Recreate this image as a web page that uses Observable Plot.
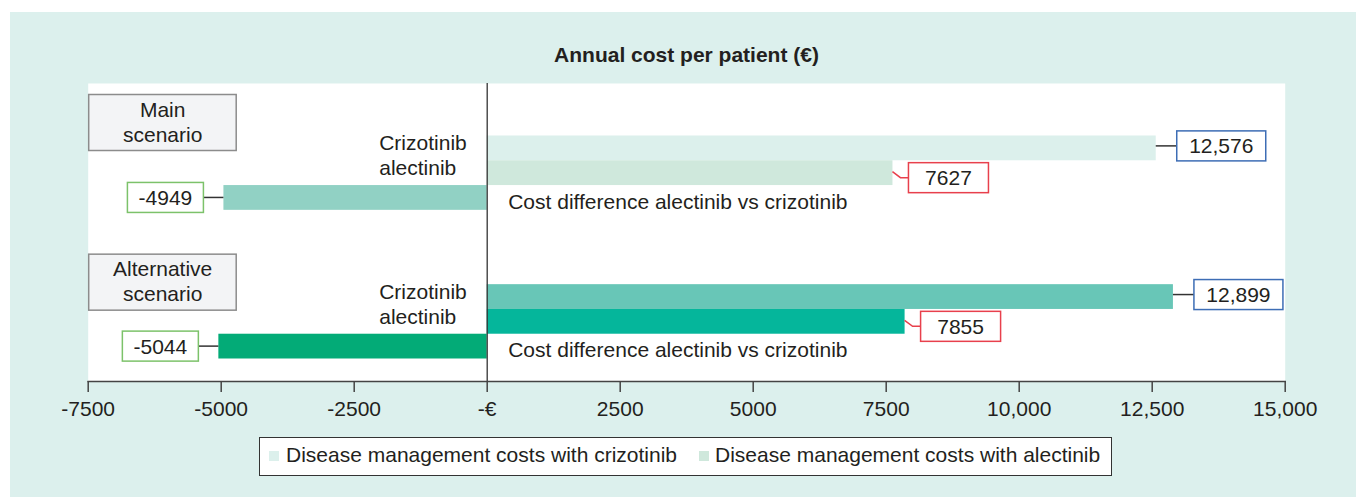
<!DOCTYPE html>
<html>
<head>
<meta charset="utf-8">
<script src="https://cdn.jsdelivr.net/npm/d3@7"></script>
<script src="https://cdn.jsdelivr.net/npm/@observablehq/plot@0.6"></script>
<style>
  body { margin: 0; background: #fff; }
  #wrap { position: relative; width: 1356px; height: 497px; overflow: hidden;
          font-family: "Liberation Sans", Arial, Helvetica, sans-serif; color: #231f20; }
  #bg { position: absolute; left: 10px; top: 12px; width: 1346px; height: 485px; background: #dcf0ed; }
  #title { position: absolute; left: 87px; width: 1199px; top: 43px; line-height: 24px;
           font-size: 21px; font-weight: bold; text-align: center; }
  #chart { position: absolute; left: 0; top: 0; }
  #legend { position: absolute; left: 259px; top: 437px; width: 851px; height: 37px;
            background: #fff; border: 1.5px solid #333; }
  .sw { position: absolute; width: 10px; height: 10px; top: 13px; }
  .lt { position: absolute; top: 5px; line-height: 24px; font-size: 21px; white-space: nowrap; }
</style>
</head>
<body>
<div id="wrap">
  <div id="bg"></div>
  <div id="title"></div>
  <div id="chart"></div>
  <div id="legend"></div>
</div>
<script>
// ---------- data ----------
const chartTitle = "Annual cost per patient (€)";
const scenarios = ["Main scenario", "Alternative scenario"];
const seriesNames = ["Crizotinib", "alectinib", "Cost difference alectinib vs crizotinib"];
const crizotinibCost = [12576, 12899];
const alectinibCost = [7627, 7855];
const costDifference = [-4949, -5044];
const xTicks = [-7500, -5000, -2500, 0, 2500, 5000, 7500, 10000, 12500, 15000];
const xTickLabels = ["-7500", "-5000", "-2500", "-€", "2500", "5000", "7500", "10,000", "12,500", "15,000"];
const legendLabels = ["Disease management costs with crizotinib", "Disease management costs with alectinib"];

// ---------- styles ----------
const FONT = '"Liberation Sans", Arial, Helvetica, sans-serif';
const TEXT = "#231f20";
const barColors = [["#dcf0ec", "#cfe8dc", "#91d1c4"], ["#68c6b7", "#05b69b", "#03ab77"]];
const boxStroke = ["#3d6db5", "#e8404c", "#7cc26a"];
const leaderStroke = ["#333333", "#e8404c", "#333333"];
const boxW = [89, 80, 76];
const scenarioBoxOffset = [-41, -30];
const legendColors = ["#dcf0ec", "#cfe8dc"];

// ---------- table ----------
const rows = [];
const yDomain = [];
scenarios.forEach((s, i) => {
  if (i > 0) yDomain.push("gap 1", "gap 2", "gap 3");
  [crizotinibCost[i], alectinibCost[i], costDifference[i]].forEach((v, j) => {
    const key = s + " | " + seriesNames[j];
    yDomain.push(key);
    rows.push({scenario: s, si: i, series: seriesNames[j], sj: j, key, value: v, color: barColors[i][j]});
  });
});
const fmtValue = v => Math.abs(v) >= 10000 ? d3.format(",")(v) : String(v);

document.getElementById("title").textContent = chartTitle;

// value label boxes with leader lines
function valueLabels(index, scales) {
  const x = scales.x, y = scales.y;
  const bw = y(yDomain[1]) - y(yDomain[0]);
  const g = d3.create("svg:g");
  for (const d of rows) {
    const xe = x(d.value), yc = y(d.key) + bw / 2;
    let bx, by, path;
    if (d.sj === 0) {
      by = yc - 2; bx = xe + 21;
      path = `M${xe},${by}H${bx}`;
    } else if (d.sj === 1) {
      by = yc + 5; bx = xe + 16;
      path = `M${xe},${yc - 1}L${xe + 8},${by}H${bx}`;
    } else {
      by = yc; bx = xe - 20 - boxW[2];
      path = `M${xe},${by}H${xe - 20}`;
    }
    g.append("path").attr("d", path).attr("fill", "none")
      .attr("stroke", leaderStroke[d.sj]).attr("stroke-width", 1.5);
    g.append("rect").attr("x", bx).attr("y", by - 15).attr("width", boxW[d.sj]).attr("height", 30)
      .attr("fill", "#fff").attr("stroke", boxStroke[d.sj]).attr("stroke-width", 1.5);
    g.append("text").attr("x", bx + boxW[d.sj] / 2).attr("y", by).attr("dy", "0.36em")
      .attr("text-anchor", "middle").attr("fill", TEXT).attr("font-size", 21)
      .text(fmtValue(d.value));
  }
  return g.node();
}

// scenario name boxes
function scenarioBoxes(index, scales, values, dimensions) {
  const y = scales.y;
  const g = d3.create("svg:g");
  scenarios.forEach((s, i) => {
    const top = y(s + " | " + seriesNames[0]) + scenarioBoxOffset[i];
    const left = dimensions.marginLeft + 1;
    g.append("rect").attr("x", left).attr("y", top).attr("width", 147.5).attr("height", 56)
      .attr("fill", "#f3f4f6").attr("stroke", "#8c8c8c").attr("stroke-width", 1.5);
    const words = s.split(" ");
    words.forEach((w, k) => {
      g.append("text").attr("x", left + 74).attr("y", top + 22 + k * 25)
        .attr("text-anchor", "middle").attr("fill", TEXT).attr("font-size", 21).text(w);
    });
  });
  return g.node();
}

const chart = Plot.plot({
  width: 1356,
  height: 440,
  marginLeft: 87.7,
  marginRight: 71.3,
  marginTop: 83,
  marginBottom: 59,
  style: {background: "transparent", fontFamily: FONT, fontSize: "21px", color: TEXT, overflow: "visible"},
  x: {domain: [-7500, 15000]},
  y: {type: "band", domain: yDomain, range: [135.5, 358.5], padding: 0, round: false, axis: null},
  color: {type: "identity"},
  marks: [
    Plot.frame({fill: "#ffffff", stroke: "none"}),
    Plot.barX(rows, {x: "value", y: "key", fill: "color"}),
    Plot.ruleX([0], {stroke: "#333", strokeWidth: 1.3}),
    Plot.frame({anchor: "bottom", stroke: "#444", strokeWidth: 1.5}),
    Plot.axisX({
      ticks: xTicks,
      tickFormat: d => xTickLabels[xTicks.indexOf(d)],
      tickSize: 11, tickPadding: 9, fontSize: 21,
      color: TEXT, stroke: "#444", strokeWidth: 1.5, label: null
    }),
    Plot.text(rows.filter(d => d.sj < 2), {x: 0, y: "key", text: "series", textAnchor: "start", dx: -108, dy: -5, fill: TEXT, fontSize: 21}),
    Plot.text(rows.filter(d => d.sj === 2), {x: 0, y: "key", text: "series", textAnchor: "start", dx: 21, dy: 4, fill: TEXT, fontSize: 21}),
    valueLabels,
    scenarioBoxes
  ]
});
document.getElementById("chart").appendChild(chart);

// legend
const legend = d3.select("#legend");
const legendPos = [[9, 26], [439, 455]];
legendLabels.forEach((t, i) => {
  legend.append("div").attr("class", "sw").style("left", legendPos[i][0] + "px").style("background", legendColors[i]);
  legend.append("div").attr("class", "lt").style("left", legendPos[i][1] + "px").text(t);
});
</script>
</body>
</html>
